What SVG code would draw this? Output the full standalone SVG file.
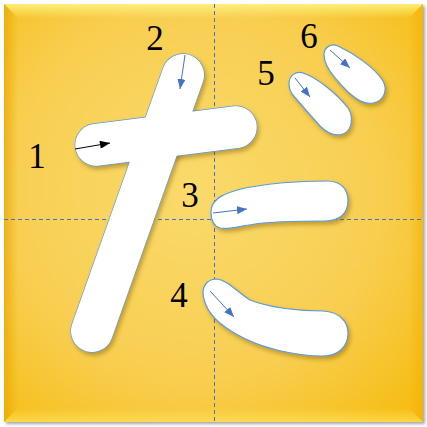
<svg xmlns="http://www.w3.org/2000/svg" xmlns:xlink="http://www.w3.org/1999/xlink" width="427" height="427" viewBox="0 0 427 427">
<style>
.shape{fill:#fff;stroke:#5B9BD5;stroke-width:1.2;filter:url(#sh)}
.fillonly{fill:#fff;stroke:none}
.lbl{font-family:"Liberation Serif","Times New Roman",serif;font-size:35px;fill:#000;text-anchor:middle}
.guide{stroke:#4472C4;stroke-width:1;stroke-dasharray:4 3;fill:none}
.arr{stroke:#4472C4;stroke-width:1;fill:none;marker-end:url(#ab)}
.arrk{stroke:#000;stroke-width:1;fill:none;marker-end:url(#ak)}
</style>
<defs>
<radialGradient id="bg" cx="0.45" cy="0.45" r="0.75">
<stop offset="0" stop-color="#FADA6C"/>
<stop offset="0.6" stop-color="#F8CE50"/>
<stop offset="1" stop-color="#F6BC10"/>
</radialGradient>
<linearGradient id="gt" x1="0" y1="0" x2="0" y2="1"><stop offset="0" stop-color="#FFF380" stop-opacity="0.9"/><stop offset="1" stop-color="#FFF380" stop-opacity="0"/></linearGradient>
<linearGradient id="gl" x1="0" y1="0" x2="1" y2="0"><stop offset="0" stop-color="#E9A600" stop-opacity="0.7"/><stop offset="1" stop-color="#E9A600" stop-opacity="0"/></linearGradient>
<linearGradient id="gb" x1="0" y1="1" x2="0" y2="0"><stop offset="0" stop-color="#FFE25A" stop-opacity="0.7"/><stop offset="1" stop-color="#FFE25A" stop-opacity="0"/></linearGradient>
<linearGradient id="gr" x1="1" y1="0" x2="0" y2="0"><stop offset="0" stop-color="#F3B000" stop-opacity="0.6"/><stop offset="1" stop-color="#F3B000" stop-opacity="0"/></linearGradient>
<filter id="sh" x="-20%" y="-20%" width="150%" height="150%"><feDropShadow dx="2" dy="3" stdDeviation="2" flood-color="#7a5a00" flood-opacity="0.45"/></filter>
<filter id="fsh" x="-5%" y="-5%" width="110%" height="110%"><feDropShadow dx="2" dy="2" stdDeviation="1.5" flood-color="#000" flood-opacity="0.35"/></filter>
<marker id="ab" viewBox="0 0 10 8" refX="10" refY="4" markerWidth="10" markerHeight="8" markerUnits="userSpaceOnUse" orient="auto"><path d="M0,0 L10,4 L0,8 Z" fill="#4472C4"/></marker>
<marker id="ak" viewBox="0 0 10 8" refX="10" refY="4" markerWidth="11" markerHeight="8" markerUnits="userSpaceOnUse" orient="auto"><path d="M0,0 L10,4 L0,8 Z" fill="#000"/></marker>
<path id="p1" d="M92.4,124.2 L234.4,106.2 A21,21 0 0 1 239.6,147.8 L97.6,165.8 A21,21 0 0 1 92.4,124.2 Z"/>
<path id="p2" d="M163.1,68.2 A21,21 0 0 1 202.9,81.8 L111.9,337.8 A21,21 0 0 1 72.1,324.2 Z"/>
</defs>
<g id="background">
<rect x="4" y="4" width="419" height="418" fill="url(#bg)" filter="url(#fsh)"/>
<polygon points="4,4 423,4 409,18 18,18" fill="url(#gt)"/>
<polygon points="4,4 18,18 18,408 4,422" fill="url(#gl)"/>
<polygon points="4,422 18,408 409,408 423,422" fill="url(#gb)"/>
<polygon points="423,4 409,18 409,408 423,422" fill="url(#gr)"/>
</g>
<g id="guides">
<line class="guide" x1="214.5" y1="4" x2="214.5" y2="422"/>
<line class="guide" x1="4" y1="219.5" x2="423" y2="219.5"/>
</g>
<g id="stroke1">
<use xlink:href="#p1" class="shape"/>
<text class="lbl" x="37" y="168">1</text>
</g>
<g id="stroke2">
<use xlink:href="#p2" class="shape"/>
<text class="lbl" x="155" y="50">2</text>
</g>
<g id="cross-fill">
<use xlink:href="#p1" class="fillonly"/>
<use xlink:href="#p2" class="fillonly"/>
</g>
<g id="stroke3">
<path class="shape" d="M211,212 C211,198 225,193 245,188 C270,183 300,181 327,181 C342,181 348,190 348,201 C348,213 340,221 325,221 C300,221 275,221 255,224 C240,226 228,230 220,228 C213,226 211,220 211,212 Z"/>
<text class="lbl" x="190" y="207">3</text>
</g>
<g id="stroke4">
<path class="shape" d="M203,293 C203,283 210,279 217,279 C228,280 238,293 250,300 C270,308 300,311 323,311 C340,312 348,322 348,333 C348,347 338,356 323,356 C295,356 260,348 236,334 C222,326 210,315 206,305 C204,300 203,297 203,293 Z"/>
<text class="lbl" x="179" y="307">4</text>
</g>
<g id="stroke5">
<path class="shape" d="M289,84 C289,75 296,71 303,73 C318,78 338,95 348,108 C354,117 352,131 343,134 C334,137 326,132 320,126 C310,115 298,101 292,94 C290,91 289,88 289,84 Z"/>
<text class="lbl" x="266" y="85">5</text>
</g>
<g id="stroke6">
<path class="shape" d="M324,55 C324,47 331,43 338,46 C355,54 375,68 383,81 C388,90 384,101 373,103 C364,105 356,99 348,92 C340,84 331,74 327,66 C325,62 324,59 324,55 Z"/>
<text class="lbl" x="309" y="48">6</text>
</g>
<g id="connectors">
<line class="arrk" x1="75" y1="149" x2="110" y2="143"/>
<line class="arr" x1="185" y1="55" x2="180" y2="89"/>
<line class="arr" x1="213" y1="213" x2="247" y2="209"/>
<line class="arr" x1="210" y1="291" x2="234" y2="317"/>
<line class="arr" x1="295" y1="78" x2="310" y2="97"/>
<line class="arr" x1="330" y1="50" x2="350" y2="68"/>
</g>
</svg>
